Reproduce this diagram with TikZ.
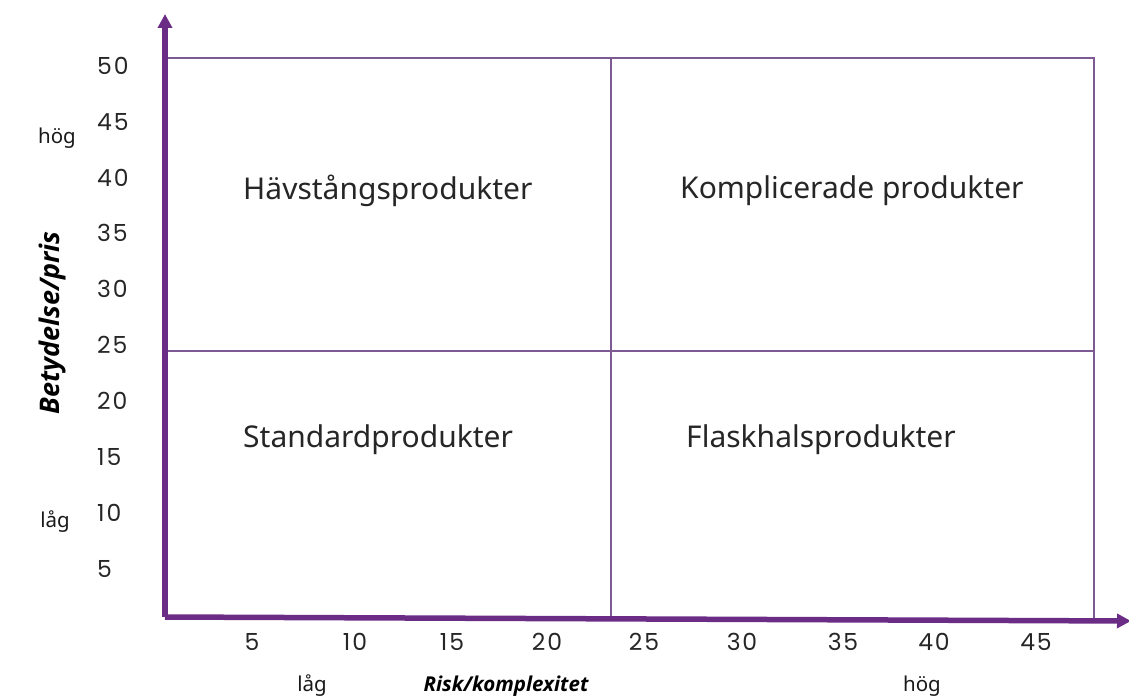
\documentclass[tikz,border=0pt]{standalone}
\usepackage{fontspec}
\setmainfont{Noto Sans}
\newfontfamily\numfont[LetterSpace=8]{Poppins}
\newfontfamily\axfont{Open Sans}
\usetikzlibrary{arrows.meta}
\definecolor{axpurple}{HTML}{6B2C85}
\definecolor{gridpurple}{HTML}{7D5A93}
\tikzset{
  axisline/.style={draw=axpurple,line width=5.5pt,-{Triangle[length=14pt,width=14pt]}},
  gridline/.style={draw=gridpurple,line width=2.2pt},
  numlbl/.style={font=\numfont\fontsize{23.5}{26}\selectfont,text=black!85,inner sep=0pt},
  quadlbl/.style={font=\fontsize{30}{34}\selectfont,text=black!85,inner sep=0pt,anchor=west},
  endlbl/.style={font=\fontsize{20.5}{24}\selectfont,text=black!90,inner sep=0pt},
  titlelbl/.style={font=\axfont\bfseries\itshape\fontsize{20.5}{24}\selectfont,text=black,inner sep=0pt}
}
\begin{document}
\begin{tikzpicture}[x=1pt,y=-1pt]
\useasboundingbox (0,0) rectangle (1129,698);
% frame corners
\coordinate (tl) at (165,58);
\coordinate (tm) at (611,58);
\coordinate (tr) at (1094,58);
\coordinate (ml) at (165,351);
\coordinate (mr) at (1094,351);
\coordinate (bm) at (611,619);
\coordinate (br) at (1094,620);
\coordinate (o) at (165,617);
\coordinate (ytip) at (165,14);
\coordinate (xtip) at (1131,621);
% grid
\draw[gridline] (tl) -- (tr) -- (br);
\draw[gridline] (tm) -- (bm);
\draw[gridline] (ml) -- (mr);
% axes
\draw[axisline] (o) -- (ytip);
\draw[axisline] (o) -- (xtip);
% y tick labels
\foreach \v/\y in {50/66,45/122,40/178,35/233,30/289,25/345,20/401,15/457,10/513,5/569}
  \node[numlbl,anchor=west] (y\v) at (97,\y) {\v};
% x tick labels
\foreach \v/\x in {5/252,10/355,15/452,20/547,25/644,30/742,35/843,40/934,45/1036}
  \node[numlbl] (x\v) at (\x,642) {\v};
% quadrant labels
\node[quadlbl] (q1) at (243,191) {Hävstångsprodukter};
\node[quadlbl] (q2) at (680,191) {Komplicerade produkter};
\node[quadlbl] (q3) at (243,440) {Standardprodukter};
\node[quadlbl] (q4) at (686,440) {Flaskhalsprodukter};
% axis end labels
\node[endlbl] (yh) at (57,138) {hög};
\node[endlbl] (yl) at (55,522) {låg};
\node[endlbl] (xl) at (312,686) {låg};
\node[endlbl] (xh) at (922,686) {hög};
% axis titles
\node[titlelbl] (xt) at (506,686) {Risk/komplexitet};
\node[titlelbl,font=\axfont\bfseries\itshape\fontsize{27}{30}\selectfont,rotate=90] (yt) at (52,323) {Betydelse/pris};
\end{tikzpicture}
\end{document}
